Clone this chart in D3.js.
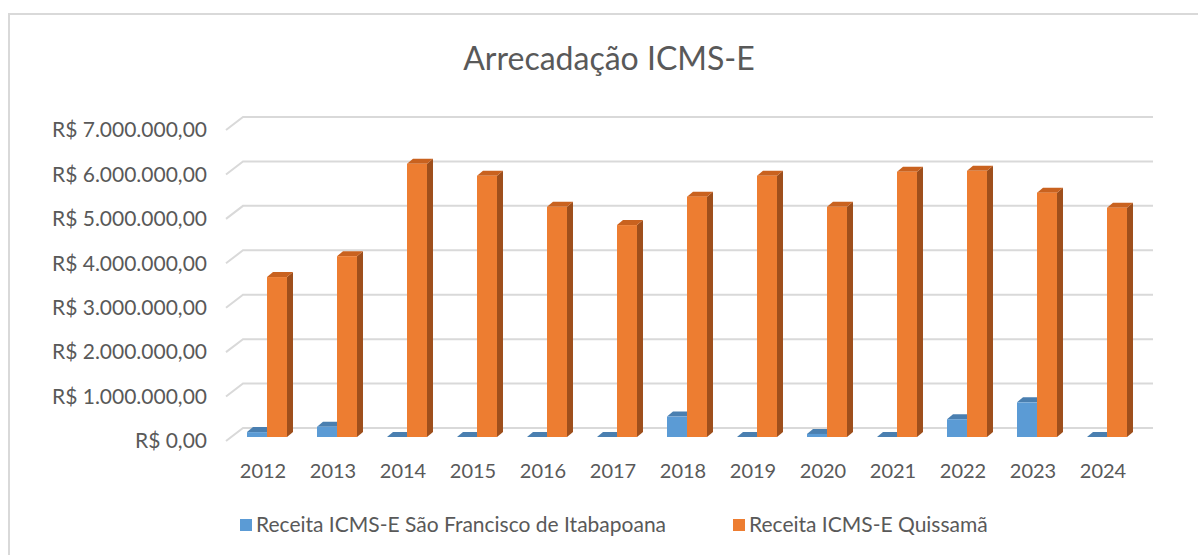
<!DOCTYPE html>
<html>
<head>
<meta charset="utf-8">
<script src="https://cdn.jsdelivr.net/npm/d3@7"></script>
<style>
  body { margin: 0; background: #fff; }
  text { font-family: Lato, "Open Sans", sans-serif; fill: #595959; }
</style>
</head>
<body>
<div id="chart"></div>
<script>
// data
const years = ["2012", "2013", "2014", "2015", "2016", "2017", "2018", "2019", "2020", "2021", "2022", "2023", "2024"];
const saoFrancisco = [110000, 230000, 0, 0, 0, 0, 460000, 0, 70000, 0, 400000, 780000, 0];
const quissama = [3600000, 4070000, 6150000, 5880000, 5180000, 4770000, 5410000, 5880000, 5180000, 5970000, 5990000, 5500000, 5160000];
const yTicks = [0, 1000000, 2000000, 3000000, 4000000, 5000000, 6000000, 7000000];
const seriesNames = ["Receita ICMS-E São Francisco de Itabapoana", "Receita ICMS-E Quissamã"];

const W = 1198, H = 555;
const depth = { dx: 6, dy: 5 };      // bar depth offset
const wall = { dx: 17, dy: 13 };     // floor depth (front edge -> back wall)

const svg = d3.select("#chart").append("svg")
  .attr("width", W).attr("height", H);

// chart frame
svg.append("rect")
  .attr("x", 9).attr("y", 14)
  .attr("width", W + 10).attr("height", H + 10)
  .attr("fill", "#fff").attr("stroke", "#d9d9d9").attr("stroke-width", 2);

svg.append("text")
  .attr("x", 609).attr("y", 70)
  .attr("text-anchor", "middle")
  .style("font-size", "32px")
  .text("Arrecadação ICMS-E");

const x = d3.scaleBand().domain(years).range([232, 1142]);
const y = d3.scaleLinear().domain([0, 7000000]).range([437, 126]);

const brl = d3.formatLocale({ decimal: ",", thousands: ".", grouping: [3], currency: ["R$ ", ""] });
const fmt = brl.format("$,.2f");

// gridlines on back wall + slant to the front
const grid = svg.append("g");
yTicks.forEach(t => {
  const yb = y(t) - 9;
  grid.append("path")
    .attr("d", `M${243 - wall.dx},${yb + wall.dy}L243,${yb}L1153,${yb}`)
    .attr("fill", "none").attr("stroke", "#d9d9d9").attr("stroke-width", 2);
  grid.append("text")
    .attr("x", 207).attr("y", yb + wall.dy)
    .attr("dy", "0.35em")
    .attr("text-anchor", "end")
    .style("font-size", "21px")
    .text(fmt(t));
});

const bw = 20;
const colors = [
  { front: "#5b9bd5", top: "#4a7fb0", side: "#3f6d97" },
  { front: "#ed7d31", top: "#c9621f", side: "#9e4f1c" }
];

function bar3d(g, x0, v, c) {
  const y0 = y(0), y1 = y(v);
  const { dx, dy } = depth;
  // side
  g.append("path")
    .attr("d", `M${x0 + bw},${y1}L${x0 + bw + dx},${y1 - dy}L${x0 + bw + dx},${y0 - dy}L${x0 + bw},${y0}Z`)
    .attr("fill", c.side);
  // top
  g.append("path")
    .attr("d", `M${x0},${y1}L${x0 + dx},${y1 - dy}L${x0 + bw + dx},${y1 - dy}L${x0 + bw},${y1}Z`)
    .attr("fill", c.top);
  // front
  if (y0 - y1 > 0) {
    g.append("rect")
      .attr("x", x0).attr("y", y1)
      .attr("width", bw).attr("height", y0 - y1)
      .attr("fill", c.front);
  }
}

const bars = svg.append("g");
years.forEach((yr, i) => {
  const cx = x(yr) + x.bandwidth() / 2;
  const g = bars.append("g");
  bar3d(g, cx - bw, saoFrancisco[i], colors[0]);
  bar3d(g, cx, quissama[i], colors[1]);
  svg.append("text")
    .attr("x", cx - 4).attr("y", 471)
    .attr("dy", "0.35em")
    .attr("text-anchor", "middle")
    .style("font-size", "20px")
    .text(yr);
});

// legend
const legendX = [240, 733];
seriesNames.forEach((name, i) => {
  const lg = svg.append("g").attr("transform", `translate(${legendX[i]},525)`);
  lg.append("rect").attr("x", 0).attr("y", -6).attr("width", 12).attr("height", 12)
    .attr("fill", colors[i].front);
  lg.append("text").attr("x", 16).attr("dy", "0.35em")
    .style("font-size", "21px")
    .text(name);
});
</script>
</body>
</html>
